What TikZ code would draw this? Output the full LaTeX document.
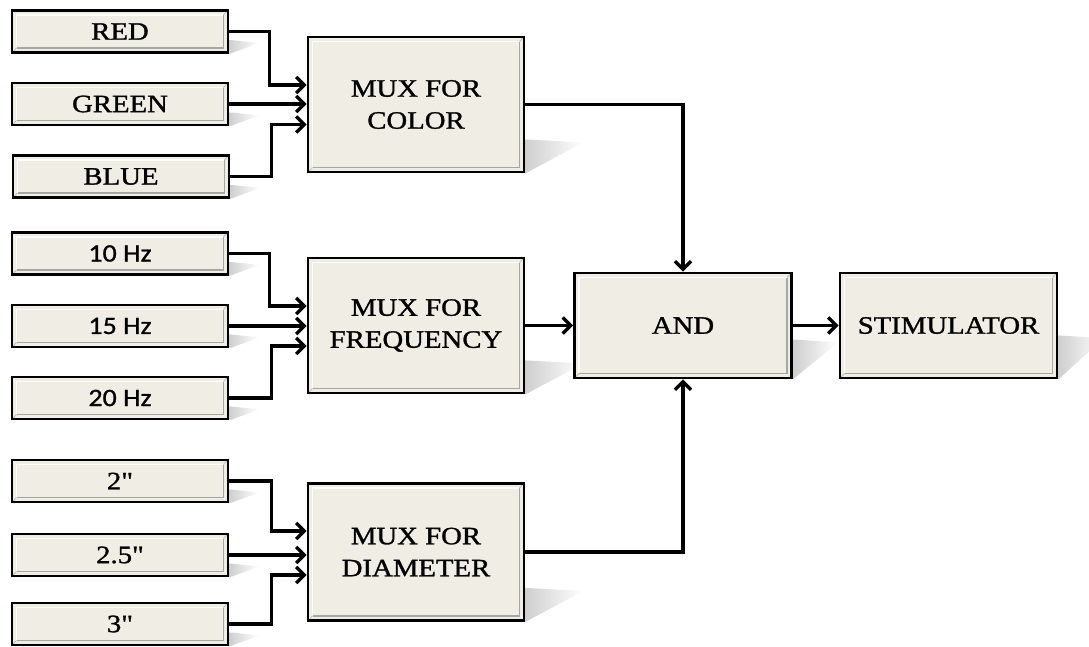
\documentclass[tikz,border=0pt]{standalone}
\usepackage{fontspec}
\setmainfont[FakeStretch=1.15,FakeBold=1.2]{Liberation Serif}
\newfontfamily\qfont[FakeStretch=1.15,FakeBold=1.2]{Liberation Serif}
\newfontfamily\hzfont[FakeStretch=1.12,FakeBold=1.0]{Carlito}
\usetikzlibrary{arrows.meta,calc,backgrounds}
\definecolor{boxfill}{HTML}{F0EEE4}
\begin{document}
\begin{tikzpicture}[x=1pt,y=-1pt,
  blk/.style={draw=black, line width=2.8pt, fill=boxfill, rectangle, inner sep=0pt,
    font=\fontsize{25}{32}\selectfont, align=center,
    path picture={
      \coordinate (pA) at ([shift={(4.5pt,4.5pt)}]path picture bounding box.south west);
      \coordinate (pB) at ([shift={(-4.5pt,-4.5pt)}]path picture bounding box.north east);
      \draw[white, line width=1.3pt] (pA) |- (pB);
      \draw[gray!70, line width=1.3pt] (pA) -| (pB);
      \draw[gray!50, line width=0.8pt] (path picture bounding box.south west) -- (pA);
      \draw[gray!50, line width=0.8pt] (path picture bounding box.north east) -- (pB);
    }},
  inbox/.style={blk, minimum width=216pt, minimum height=42pt},
  muxbox/.style={blk, minimum width=216pt, minimum height=135pt},
  bigbox/.style={blk, minimum width=217pt, minimum height=105pt},
  conn/.style={line width=3.4pt, -{Straight Barb[length=8pt,width=16pt]}},
]
\useasboundingbox (0,0) rectangle (1089,646);

% input boxes
\node[inbox] (red)   at (120,31.5) {RED};
\node[inbox] (green) at (120,104)  {GREEN};
\node[inbox] (blue)  at (121,176.5) {BLUE};
\node[inbox] (f10)   at (120,253.5) {\hzfont 10 Hz};
\node[inbox] (f15)   at (120,326)  {\hzfont 15 Hz};
\node[inbox] (f20)   at (120,398)  {\hzfont 20 Hz};
\node[inbox] (d2)    at (120,481)  {\qfont 2"};
\node[inbox] (d25)   at (120,555)  {\qfont 2.5"};
\node[inbox] (d3)    at (120,624)  {\qfont 3"};

% mux boxes
\node[muxbox] (mc) at (416,104.5) {MUX FOR\\COLOR};
\node[muxbox] (mf) at (416,325.5) {MUX FOR\\FREQUENCY};
\node[muxbox, minimum height=137pt] (md) at (416,552) {MUX FOR\\DIAMETER};

% AND and stimulator
\node[bigbox] (and)  at (683,325.5) {AND};
\node[bigbox] (stim) at (948.5,325.5) {STIMULATOR};

% shadows
\begin{scope}[on background layer]
  \fill[white] (0,0) rectangle (1089,646);
  \foreach \n/\dx/\dy in {red/30/14, green/30/14, blue/30/14, f10/30/14, f15/30/14,
      f20/30/14, d2/30/14, d25/30/14, d3/30/14, mc/58/34, mf/58/34, md/58/34,
      and/45/40, stim/45/44}{
    \shade[left color=gray!38, right color=white]
      (\n.south east) -- ($(\n.south east)+(0,-\dy)$)
      -- ($(\n.south east)+(\dx,-\dy+3)$) -- cycle;
  }
\end{scope}

% connectors to mux for color
\draw[conn] (red.east) -- ++(40,0) |- ([yshift=19.5pt]mc.west);
\draw[conn] (green.east) -- (green.east -| mc.west);
\draw[conn] (blue.east) -- ++(41,0) |- ([yshift=-20pt]mc.west);

% connectors to mux for frequency
\draw[conn] (f10.east) -- ++(40,0) |- ([yshift=19.5pt]mf.west);
\draw[conn] (f15.east) -- (f15.east -| mf.west);
\draw[conn] (f20.east) -- ++(42,0) |- ([yshift=-20.5pt]mf.west);

% connectors to mux for diameter
\draw[conn] (d2.east) -- ++(42,0) |- ([yshift=21pt]md.west);
\draw[conn] (d25.east) -- (d25.east -| md.west);
\draw[conn] (d3.east) -- ++(42,0) |- ([yshift=-23pt]md.west);

% mux outputs
\draw[conn] (mc.east) -| (and.north);
\draw[conn] (mf.east) -- (and.west);
\draw[conn] (md.east) -| (and.south);
\draw[conn] (and.east) -- (stim.west);
\end{tikzpicture}
\end{document}
